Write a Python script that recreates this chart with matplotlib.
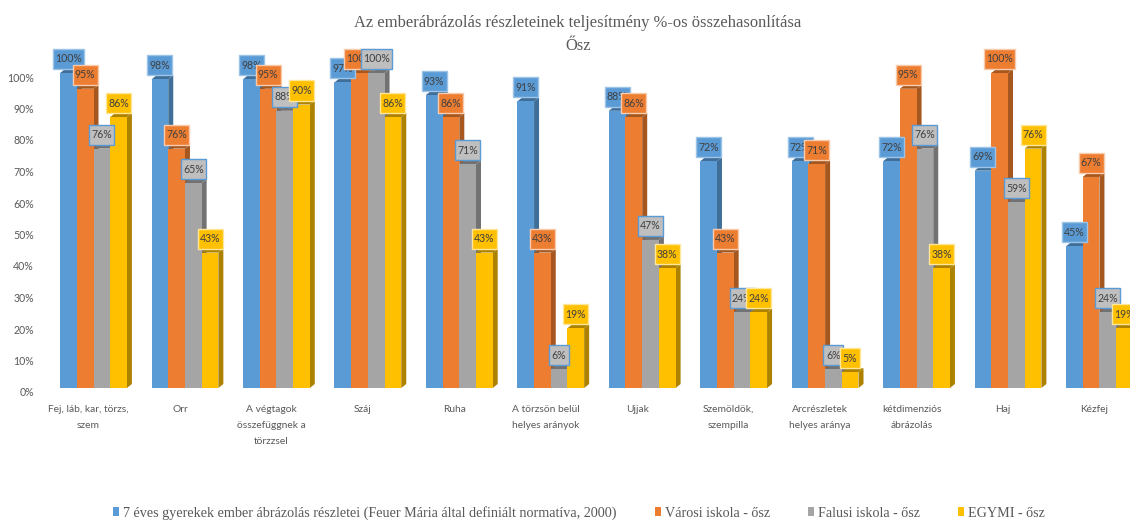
"""
Az emberabrazolas reszletei - 3D hatasu oszlopdiagram matplotlibbel.
"""
import matplotlib
matplotlib.use("Agg")
import matplotlib.pyplot as plt
from matplotlib.patches import Polygon, Rectangle
from matplotlib.transforms import ScaledTranslation

categories = ["Fej, láb, kar, törzs,\nszem", "Orr", "A végtagok\nösszefüggnek a\ntörzzsel", "Száj", "Ruha",
              "A törzsön belül\nhelyes arányok", "Ujjak", "Szemöldök,\nszempilla", "Arcrészletek\nhelyes aránya",
              "kétdimenziós\nábrázolás", "Haj", "Kézfej"]
series_names = ["7 éves gyerekek ember ábrázolás részletei (Feuer Mária által definiált normatíva, 2000)",
                "Városi iskola - ősz", "Falusi iskola - ősz", "EGYMI - ősz"]
blue = [100, 98, 98, 97, 93, 91, 88, 72, 72, 72, 69, 45]
orange = [95, 76, 95, 100, 86, 43, 86, 43, 71, 95, 100, 67]
gray = [76, 65, 88, 100, 71, 6, 47, 24, 6, 76, 59, 24]
yellow = [86, 43, 90, 86, 43, 19, 38, 24, 5, 38, 76, 19]
yticks = list(range(0, 101, 10))

W, H = 1130, 520
GROUP_PX = 91.45
PX_PER_PCT = 3.15
AX_LEFT, AX_BOTTOM, AX_TOP = 40, 388, 30

colors = ["#5B9BD5", "#ED7D31", "#A5A5A5", "#FFC000"]
dark_colors = ["#3F6F99", "#A5571F", "#727272", "#AD8200"]
label_fills = ["#5B9BD5", "#ED7D31", "#BFBFBF", "#FFC000"]
label_edges = ["#9DC3E6", "#F8CBAD", "#5B9BD5", "#FFE699"]
text_color = "#595959"

fig = plt.figure(figsize=(W / 100, H / 100), dpi=100)
ax = fig.add_axes([AX_LEFT / W, 1 - AX_BOTTOM / H, 1 - AX_LEFT / W, (AX_BOTTOM - AX_TOP) / H])
ax.set_xlim((AX_LEFT - 93.5) / GROUP_PX, (W - 93.5) / GROUP_PX)
ax.set_ylim(0, (AX_BOTTOM - AX_TOP) / PX_PER_PCT)

bar_w = 16.7 / GROUP_PX
dx = 5 / GROUP_PX
dy = 4 / PX_PER_PCT
box_h = 20 / PX_PER_PCT

all_series = [blue, orange, gray, yellow]
for i in range(len(categories)):
    for s, values in enumerate(all_series):
        val = values[i]
        x = i + (s - 1.5) * bar_w
        left, right = x - bar_w / 2, x + bar_w / 2
        z = 2 + i + s * 0.1
        # side and top faces first, the next bar covers them
        ax.add_patch(Polygon([(right, 0), (right + dx, dy), (right + dx, val + dy), (right, val)],
                             fc=dark_colors[s], ec="none", zorder=z))
        ax.add_patch(Polygon([(left, val), (left + dx, val + dy), (right + dx, val + dy), (right, val)],
                             fc=dark_colors[s], ec="none", zorder=z))
        ax.bar(x, val, bar_w, color=colors[s], zorder=z + 0.01)

# labels go on top of every bar
for i in range(len(categories)):
    for s, values in enumerate(all_series):
        val = values[i]
        x = i + (s - 1.5) * bar_w
        box_px = 31 if val == 100 else (20 if val < 10 else 25)
        box_w = box_px / GROUP_PX
        y0 = val + 4 / PX_PER_PCT
        z = 50 + i + s * 0.1
        ax.add_patch(Rectangle((x - box_w / 2, y0), box_w, box_h, fc=label_fills[s], ec=label_edges[s],
                               lw=1, zorder=z, clip_on=False))
        ax.text(x, y0 + box_h / 2, "%d%%" % val, ha="center", va="center", fontsize=7.6, family="Lato",
                color="#404040", zorder=z + 0.01, clip_on=False)

for side in ax.spines.values():
    side.set_visible(False)
ax.set_yticks(yticks)
ax.set_yticklabels(["%d%%" % t for t in yticks], family="Lato", fontsize=7.6, color=text_color)
ax.set_xticks(range(len(categories)))
ax.set_xticklabels(categories, family="Lato", fontsize=7.4, color=text_color, linespacing=2.0)
ax.tick_params(axis="y", length=0, pad=4.5)
ax.tick_params(axis="x", length=0, pad=12)
for lab in ax.get_yticklabels():
    lab.set_transform(lab.get_transform() + ScaledTranslation(0, -4 / 100, fig.dpi_scale_trans))
for lab in ax.get_xticklabels():
    lab.set_transform(lab.get_transform() + ScaledTranslation(-5 / 100, 0, fig.dpi_scale_trans))

fig.text(578 / W, 1 - 23 / H, "Az emberábrázolás részleteinek teljesítmény %-os összehasonlítása", ha="center",
         va="center", family="Liberation Serif", fontsize=11.9, color=text_color)
fig.text(578 / W, 1 - 46 / H, "Ősz", ha="center", va="center", family="Liberation Serif", fontsize=11.9,
         color=text_color)

handles = [Rectangle((0, 0), 1, 1, fc=c, ec="none") for c in colors]
fig.legend(handles, series_names, loc="center", bbox_to_anchor=(579 / W, 1 - 513 / H), ncol=4, frameon=False,
           prop={"family": "Liberation Serif", "size": 10.15}, labelcolor=text_color, handlelength=0.42,
           handleheight=0.6, handletextpad=0.28, columnspacing=2.7, borderpad=0)

fig.savefig("out.png", dpi=100)
